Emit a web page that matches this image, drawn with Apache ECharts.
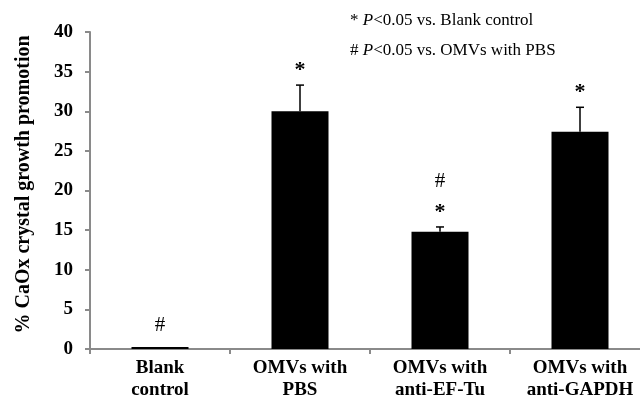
<!DOCTYPE html>
<html>
<head>
<meta charset="utf-8">
<script src="https://cdn.jsdelivr.net/npm/echarts@6/dist/echarts.min.js"></script>
<style>html,body{margin:0;padding:0;background:#fff}#c{width:640px;height:397px}</style>
</head>
<body>
<div id="c"></div>
<script>
const categories = ['Blank\ncontrol', 'OMVs with\nPBS', 'OMVs with\nanti-EF-Tu', 'OMVs with\nanti-GAPDH'];
const values = [0.25, 30.0, 14.8, 27.4];
const errors = [0, 3.3, 0.6, 3.1];
const marks = [['#'], ['*'], ['*', '#'], ['*']];
const yTicks = [0, 5, 10, 15, 20, 25, 30, 35, 40];
const yName = '% CaOx crystal growth promotion';
const notes = ['* ', '# '];
const noteTexts = ['<0.05 vs. Blank control', '<0.05 vs. OMVs with PBS'];

const serif = 'Liberation Serif, Times New Roman, serif';
const chart = echarts.init(document.getElementById('c'), null, {renderer: 'canvas'});

const errData = values.map((v, i) => [i, v, errors[i]]);

chart.setOption({
  animation: false,
  backgroundColor: '#fff',
  grid: {left: 90, top: 32, width: 560, height: 317, containLabel: false, outerBoundsMode: 'none'},
  xAxis: {
    type: 'category',
    data: categories,
    axisLine: {lineStyle: {color: '#8a8a8a', width: 2}},
    axisTick: {show: true, length: 5, lineStyle: {color: '#8a8a8a', width: 2}},
    axisLabel: {color: '#000', fontFamily: serif, fontWeight: 'bold', fontSize: 19, lineHeight: 22, margin: 8, interval: 0}
  },
  yAxis: {
    type: 'value',
    min: yTicks[0], max: yTicks[yTicks.length - 1], interval: 5,
    name: yName,
    nameLocation: 'middle',
    nameGap: 56,
    nameTextStyle: {color: '#000', fontFamily: serif, fontWeight: 'bold', fontSize: 20, padding: [0, 0, 0, 12]},
    axisLine: {show: true, lineStyle: {color: '#8a8a8a', width: 2}},
    axisTick: {show: true, length: 5, lineStyle: {color: '#8a8a8a', width: 2}},
    splitLine: {show: false},
    axisLabel: {color: '#000', fontFamily: serif, fontWeight: 'bold', fontSize: 19, margin: 17}
  },
  series: [
    {
      type: 'bar',
      data: values,
      barWidth: 57,
      itemStyle: {color: '#000'},
      z: 2
    },
    {
      type: 'custom',
      data: errData,
      z: 3,
      renderItem: function (params, api) {
        const i = api.value(0), v = api.value(1), e = api.value(2);
        const base = api.coord([i, v]);
        const top = api.coord([i, v + e]);
        const children = [];
        if (e > 0) {
          children.push({type: 'line', shape: {x1: base[0], y1: base[1], x2: top[0], y2: top[1]}, style: {stroke: '#000', lineWidth: 1.5}});
          children.push({type: 'line', shape: {x1: top[0] - 4, y1: top[1], x2: top[0] + 4, y2: top[1]}, style: {stroke: '#000', lineWidth: 1.5}});
        }
        const m = marks[i];
        let y = top[1] - (e > 0 ? 18 : 24);
        m.forEach(function (s, k) {
          const isStar = s === '*';
          children.push({
            type: 'text',
            style: {
              text: s, x: top[0], y: isStar ? y + 3 : y + 2,
              align: 'center', verticalAlign: 'middle',
              font: (isStar ? 'bold 22px ' : '21px ') + serif,
              fill: '#000'
            }
          });
          y -= 29;
        });
        return {type: 'group', children: children};
      }
    }
  ],
  graphic: [0, 1].map(function (k) {
    return {
      type: 'text',
      left: 350, top: 12 + k * 30,
      style: {
        rich: {
          s: {fontFamily: serif, fontSize: 17, fill: '#000'},
          p: {fontFamily: serif, fontSize: 17, fontStyle: 'italic', fill: '#000'}
        },
        text: '{s|' + notes[k] + '}{p|P}{s|' + noteTexts[k] + '}'
      }
    };
  })
});
</script>
</body>
</html>
